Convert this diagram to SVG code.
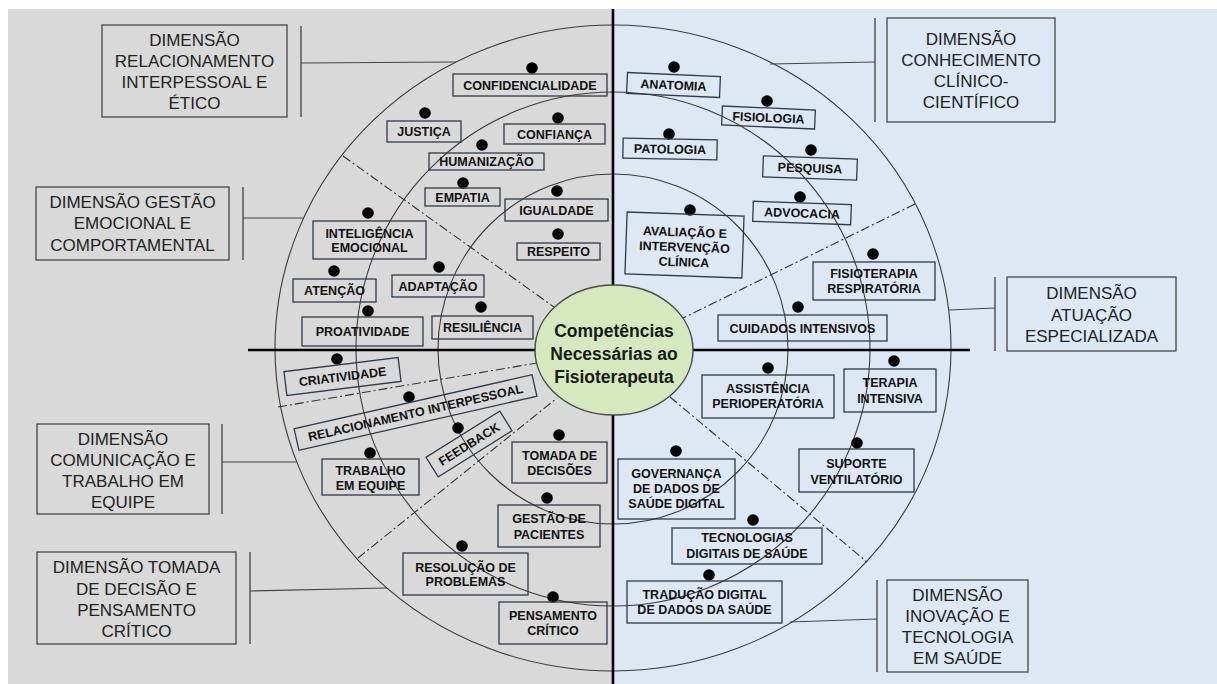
<svg xmlns="http://www.w3.org/2000/svg" width="1217" height="684" viewBox="0 0 1217 684">
<style>
.dimbox{fill:none;stroke:#3a3a3a;stroke-width:1.2}
.dimt{font-family:"Liberation Sans",Arial,sans-serif;font-size:17px;fill:#222;text-anchor:middle}
.ibox{fill:none;stroke:#2f3a4a;stroke-width:1.3}
.it{font-family:"Liberation Sans",Arial,sans-serif;font-weight:bold;font-size:12.5px;fill:#111;text-anchor:middle}
.dot{fill:#000}
.ring{fill:none;stroke:#3a3a3a;stroke-width:1.1}
.dd{fill:none;stroke:#333;stroke-width:1.1;stroke-dasharray:9 3 2 3}
.bar{stroke:#555;stroke-width:1.5;fill:none}
.conn{stroke:#444;stroke-width:1.1;fill:none}
.axis{stroke:#000;stroke-width:2.6}
.ct{font-family:"Liberation Sans",Arial,sans-serif;font-weight:bold;font-size:17.5px;fill:#1a1a1a;text-anchor:middle}
</style>
<rect x="0" y="0" width="1217" height="684" fill="#ffffff"/>
<rect x="8" y="9" width="605" height="675" fill="#d9d9d9"/>
<rect x="613" y="9" width="604" height="675" fill="#dde8f4"/>

<g id="rings">
<ellipse class="ring" cx="613" cy="348" rx="338" ry="323"/>
<circle class="ring" cx="613" cy="349" r="257"/>
<circle class="ring" cx="613" cy="349" r="175"/>
</g>

<g id="sectors">
<line class="dd" x1="343" y1="156" x2="554" y2="307"/>
<line class="dd" x1="915" y1="204" x2="683" y2="318"/>
<line class="dd" x1="278" y1="407" x2="537" y2="363"/>
<line class="dd" x1="358" y1="558" x2="557" y2="398"/>
<line class="dd" x1="670" y1="397" x2="867" y2="562"/>
</g>

<g id="axes">
<line class="axis" x1="613" y1="9" x2="613" y2="684"/>
<line class="axis" x1="248" y1="350" x2="970" y2="350"/>
</g>

<g id="connectors">
<line class="bar" x1="301" y1="26" x2="301" y2="117"/>
<line class="conn" x1="301" y1="63" x2="456" y2="62"/>
<line class="bar" x1="243" y1="187" x2="243" y2="260"/>
<line class="conn" x1="243" y1="218" x2="304" y2="218"/>
<line class="bar" x1="222" y1="424" x2="222" y2="514"/>
<line class="conn" x1="222" y1="462" x2="297" y2="462"/>
<line class="bar" x1="250" y1="552" x2="250" y2="644"/>
<line class="conn" x1="250" y1="591" x2="387" y2="588"/>
<line class="bar" x1="875" y1="18" x2="875" y2="122"/>
<line class="conn" x1="770" y1="64" x2="875" y2="62"/>
<line class="bar" x1="995" y1="277" x2="995" y2="351"/>
<line class="conn" x1="949" y1="310" x2="995" y2="308"/>
<line class="bar" x1="877" y1="580" x2="877" y2="672"/>
<line class="conn" x1="790" y1="622" x2="877" y2="619"/>
</g>

<g id="center">
<ellipse cx="614" cy="350" rx="79" ry="65" fill="#d6e8bd" stroke="#4a4a4a" stroke-width="1.5"/>
<text class="ct" x="614" y="337">Competências</text>
<text class="ct" x="614" y="360">Necessárias ao</text>
<text class="ct" x="614" y="383">Fisioterapeuta</text>
</g>

<g id="dim-relacionamento">
<rect class="dimbox" x="102" y="25" width="185" height="92"/>
<text class="dimt" x="194.5" y="46">DIMENSÃO</text>
<text class="dimt" x="194.5" y="67">RELACIONAMENTO</text>
<text class="dimt" x="194.5" y="88">INTERPESSOAL E</text>
<text class="dimt" x="194.5" y="109">ÉTICO</text>
</g>
<g id="dim-gestao-emocional">
<rect class="dimbox" x="36" y="187" width="193" height="73"/>
<text class="dimt" x="132.5" y="208">DIMENSÃO GESTÃO</text>
<text class="dimt" x="132.5" y="229">EMOCIONAL E</text>
<text class="dimt" x="132.5" y="251">COMPORTAMENTAL</text>
</g>
<g id="dim-comunicacao">
<rect class="dimbox" x="37" y="424" width="172" height="90"/>
<text class="dimt" x="123" y="445">DIMENSÃO</text>
<text class="dimt" x="123" y="466">COMUNICAÇÃO E</text>
<text class="dimt" x="123" y="487">TRABALHO EM</text>
<text class="dimt" x="123" y="508">EQUIPE</text>
</g>
<g id="dim-tomada-decisao">
<rect class="dimbox" x="37" y="552" width="199" height="92"/>
<text class="dimt" x="136.5" y="573">DIMENSÃO TOMADA</text>
<text class="dimt" x="136.5" y="595">DE DECISÃO E</text>
<text class="dimt" x="136.5" y="616">PENSAMENTO</text>
<text class="dimt" x="136.5" y="637">CRÍTICO</text>
</g>
<g id="dim-conhecimento">
<rect class="dimbox" x="887" y="18" width="168" height="104"/>
<text class="dimt" x="971" y="45">DIMENSÃO</text>
<text class="dimt" x="971" y="66">CONHECIMENTO</text>
<text class="dimt" x="971" y="87">CLÍNICO-</text>
<text class="dimt" x="971" y="108">CIENTÍFICO</text>
</g>
<g id="dim-atuacao">
<rect class="dimbox" x="1007" y="277" width="169" height="74"/>
<text class="dimt" x="1091.5" y="299">DIMENSÃO</text>
<text class="dimt" x="1091.5" y="321">ATUAÇÃO</text>
<text class="dimt" x="1091.5" y="342">ESPECIALIZADA</text>
</g>
<g id="dim-inovacao">
<rect class="dimbox" x="887" y="580" width="141" height="92"/>
<text class="dimt" x="957.5" y="601">DIMENSÃO</text>
<text class="dimt" x="957.5" y="622">INOVAÇÃO E</text>
<text class="dimt" x="957.5" y="643">TECNOLOGIA</text>
<text class="dimt" x="957.5" y="664">EM SAÚDE</text>
</g>

<g id="i-confidencialidade"><circle class="dot" cx="532" cy="68" r="5.8"/><rect class="ibox" x="453" y="74" width="154" height="22"/><text class="it" x="530" y="89.5">CONFIDENCIALIDADE</text></g>
<g id="i-justica"><circle class="dot" cx="425" cy="113" r="5.8"/><rect class="ibox" x="387" y="121" width="74" height="21"/><text class="it" x="424" y="136">JUSTIÇA</text></g>
<g id="i-confianca"><circle class="dot" cx="558" cy="118" r="5.8"/><rect class="ibox" x="504" y="124" width="101" height="20"/><text class="it" x="554.5" y="138.5">CONFIANÇA</text></g>
<g id="i-humanizacao"><circle class="dot" cx="482" cy="145" r="5.8"/><rect class="ibox" x="429" y="153" width="115" height="17"/><text class="it" x="486.5" y="166">HUMANIZAÇÃO</text></g>
<g id="i-empatia"><circle class="dot" cx="463" cy="183" r="5.8"/><rect class="ibox" x="425" y="188" width="75" height="18"/><text class="it" x="462.5" y="201.5">EMPATIA</text></g>
<g id="i-igualdade"><circle class="dot" cx="557" cy="191" r="5.8"/><rect class="ibox" x="505" y="199" width="103" height="22"/><text class="it" x="556.5" y="214.5">IGUALDADE</text></g>
<g id="i-respeito"><circle class="dot" cx="558" cy="234" r="5.8"/><rect class="ibox" x="517" y="243" width="83" height="17"/><text class="it" x="558.5" y="256">RESPEITO</text></g>
<g id="i-inteligencia"><circle class="dot" cx="368" cy="213" r="5.8"/><rect class="ibox" x="313" y="221" width="113" height="38"/><text class="it" x="369.5" y="237.5">INTELIGÊNCIA</text><text class="it" x="369.5" y="251.5">EMOCIONAL</text></g>
<g id="i-atencao"><circle class="dot" cx="334" cy="271" r="5.8"/><rect class="ibox" x="293" y="279" width="83" height="23"/><text class="it" x="334.5" y="295">ATENÇÃO</text></g>
<g id="i-adaptacao"><circle class="dot" cx="439" cy="267" r="5.8"/><rect class="ibox" x="392" y="275" width="92" height="22"/><text class="it" x="438" y="290.5">ADAPTAÇÃO</text></g>
<g id="i-proatividade"><circle class="dot" cx="368" cy="311" r="5.8"/><rect class="ibox" x="302" y="317" width="121" height="29"/><text class="it" x="362.5" y="336">PROATIVIDADE</text></g>
<g id="i-resiliencia"><circle class="dot" cx="481" cy="307" r="5.8"/><rect class="ibox" x="432" y="316" width="101" height="23"/><text class="it" x="482.5" y="332">RESILIÊNCIA</text></g>
<g id="i-criatividade"><circle class="dot" cx="337" cy="359" r="5.8"/><g transform="rotate(-7 342.5 376.5)"><rect class="ibox" x="285" y="364.5" width="115" height="24"/><text class="it" x="342.5" y="381">CRIATIVIDADE</text></g></g>
<g id="i-relacionamento"><circle class="dot" cx="409" cy="397" r="5.8"/><g transform="rotate(-12.8 415.5 412.5)"><rect class="ibox" x="293.5" y="401.5" width="244" height="22"/><text class="it" x="415.5" y="417">RELACIONAMENTO INTERPESSOAL</text></g></g>
<g id="i-feedback"><circle class="dot" cx="458" cy="428" r="5.8"/><g transform="rotate(-32 469 444)"><rect class="ibox" x="425.5" y="432.5" width="87" height="23"/><text class="it" x="469" y="448.5">FEEDBACK</text></g></g>
<g id="i-trabalho"><circle class="dot" cx="370" cy="453" r="5.8"/><rect class="ibox" x="322" y="459" width="97" height="36"/><text class="it" x="370.5" y="474.5">TRABALHO</text><text class="it" x="370.5" y="489.5">EM EQUIPE</text></g>
<g id="i-tomada"><circle class="dot" cx="559" cy="435" r="5.8"/><rect class="ibox" x="512" y="442" width="95" height="41"/><text class="it" x="559.5" y="459.5">TOMADA DE</text><text class="it" x="559.5" y="474.5">DECISÕES</text></g>
<g id="i-gestao-pacientes"><circle class="dot" cx="547" cy="498" r="5.8"/><rect class="ibox" x="498" y="505" width="102" height="42"/><text class="it" x="549" y="522.5">GESTÃO DE</text><text class="it" x="549" y="538.5">PACIENTES</text></g>
<g id="i-resolucao"><circle class="dot" cx="462" cy="546" r="5.8"/><rect class="ibox" x="403" y="553" width="125" height="42"/><text class="it" x="465.5" y="571.5">RESOLUÇÃO DE</text><text class="it" x="465.5" y="585.5">PROBLEMAS</text></g>
<g id="i-pensamento"><circle class="dot" cx="553" cy="597" r="5.8"/><rect class="ibox" x="499" y="602" width="108" height="42"/><text class="it" x="553" y="619.5">PENSAMENTO</text><text class="it" x="553" y="634.5">CRÍTICO</text></g>
<g id="i-anatomia"><circle class="dot" cx="674" cy="67" r="5.8"/><g transform="rotate(2.5 673.5 85)"><rect class="ibox" x="627" y="74.5" width="93" height="21"/><text class="it" x="673.5" y="89.5">ANATOMIA</text></g></g>
<g id="i-fisiologia"><circle class="dot" cx="767" cy="101" r="5.8"/><g transform="rotate(2.5 768.5 117.5)"><rect class="ibox" x="722" y="108" width="93" height="19"/><text class="it" x="768.5" y="122">FISIOLOGIA</text></g></g>
<g id="i-patologia"><circle class="dot" cx="669" cy="134" r="5.8"/><g transform="rotate(1 670 149)"><rect class="ibox" x="623" y="139" width="94" height="20"/><text class="it" x="670" y="153.5">PATOLOGIA</text></g></g>
<g id="i-pesquisa"><circle class="dot" cx="811" cy="150" r="5.8"/><g transform="rotate(2 810 168)"><rect class="ibox" x="763" y="157.5" width="94" height="21"/><text class="it" x="810" y="172.5">PESQUISA</text></g></g>
<g id="i-advocacia"><circle class="dot" cx="800" cy="197" r="5.8"/><g transform="rotate(2 802 213)"><rect class="ibox" x="753" y="203" width="98" height="20"/><text class="it" x="802" y="217.5">ADVOCACIA</text></g></g>
<g id="i-avaliacao"><circle class="dot" cx="690" cy="210" r="5.8"/><g transform="rotate(2 684.5 245)"><rect class="ibox" x="626" y="214" width="117" height="62"/><text class="it" x="684.5" y="236.5">AVALIAÇÃO E</text><text class="it" x="684.5" y="251.5">INTERVENÇÃO</text><text class="it" x="684.5" y="266.5">CLÍNICA</text></g></g>
<g id="i-fisioterapia"><circle class="dot" cx="873" cy="254" r="5.8"/><rect class="ibox" x="813" y="262" width="122" height="38"/><text class="it" x="874" y="277.5">FISIOTERAPIA</text><text class="it" x="874" y="292.5">RESPIRATÓRIA</text></g>
<g id="i-cuidados"><circle class="dot" cx="798" cy="307" r="5.8"/><rect class="ibox" x="718" y="315" width="169" height="26"/><text class="it" x="802.5" y="332.5">CUIDADOS INTENSIVOS</text></g>
<g id="i-assistencia"><circle class="dot" cx="768" cy="368" r="5.8"/><rect class="ibox" x="702" y="375" width="132" height="43"/><text class="it" x="768" y="392.5">ASSISTÊNCIA</text><text class="it" x="768" y="407.5">PERIOPERATÓRIA</text></g>
<g id="i-terapia"><circle class="dot" cx="894" cy="361" r="5.8"/><rect class="ibox" x="844" y="369" width="92" height="43"/><text class="it" x="890" y="386.5">TERAPIA</text><text class="it" x="890" y="402.5">INTENSIVA</text></g>
<g id="i-suporte"><circle class="dot" cx="857" cy="443" r="5.8"/><rect class="ibox" x="799" y="449" width="115" height="43"/><text class="it" x="856.5" y="467.5">SUPORTE</text><text class="it" x="856.5" y="483.5">VENTILATÓRIO</text></g>
<g id="i-governanca"><circle class="dot" cx="676" cy="451" r="5.8"/><rect class="ibox" x="618" y="459" width="117" height="60"/><text class="it" x="676.5" y="477.5">GOVERNANÇA</text><text class="it" x="676.5" y="492.5">DE DADOS DE</text><text class="it" x="676.5" y="507.5">SAÚDE DIGITAL</text></g>
<g id="i-tecnologias"><circle class="dot" cx="753" cy="520" r="5.8"/><rect class="ibox" x="672" y="528" width="150" height="36"/><text class="it" x="747" y="541.5">TECNOLOGIAS</text><text class="it" x="747" y="557.5">DIGITAIS DE SAÚDE</text></g>
<g id="i-traducao"><circle class="dot" cx="709" cy="575" r="5.8"/><rect class="ibox" x="627" y="581" width="155" height="42"/><text class="it" x="704.5" y="598.5">TRADUÇÃO DIGITAL</text><text class="it" x="704.5" y="613.5">DE DADOS DA SAÚDE</text></g>
</svg>
